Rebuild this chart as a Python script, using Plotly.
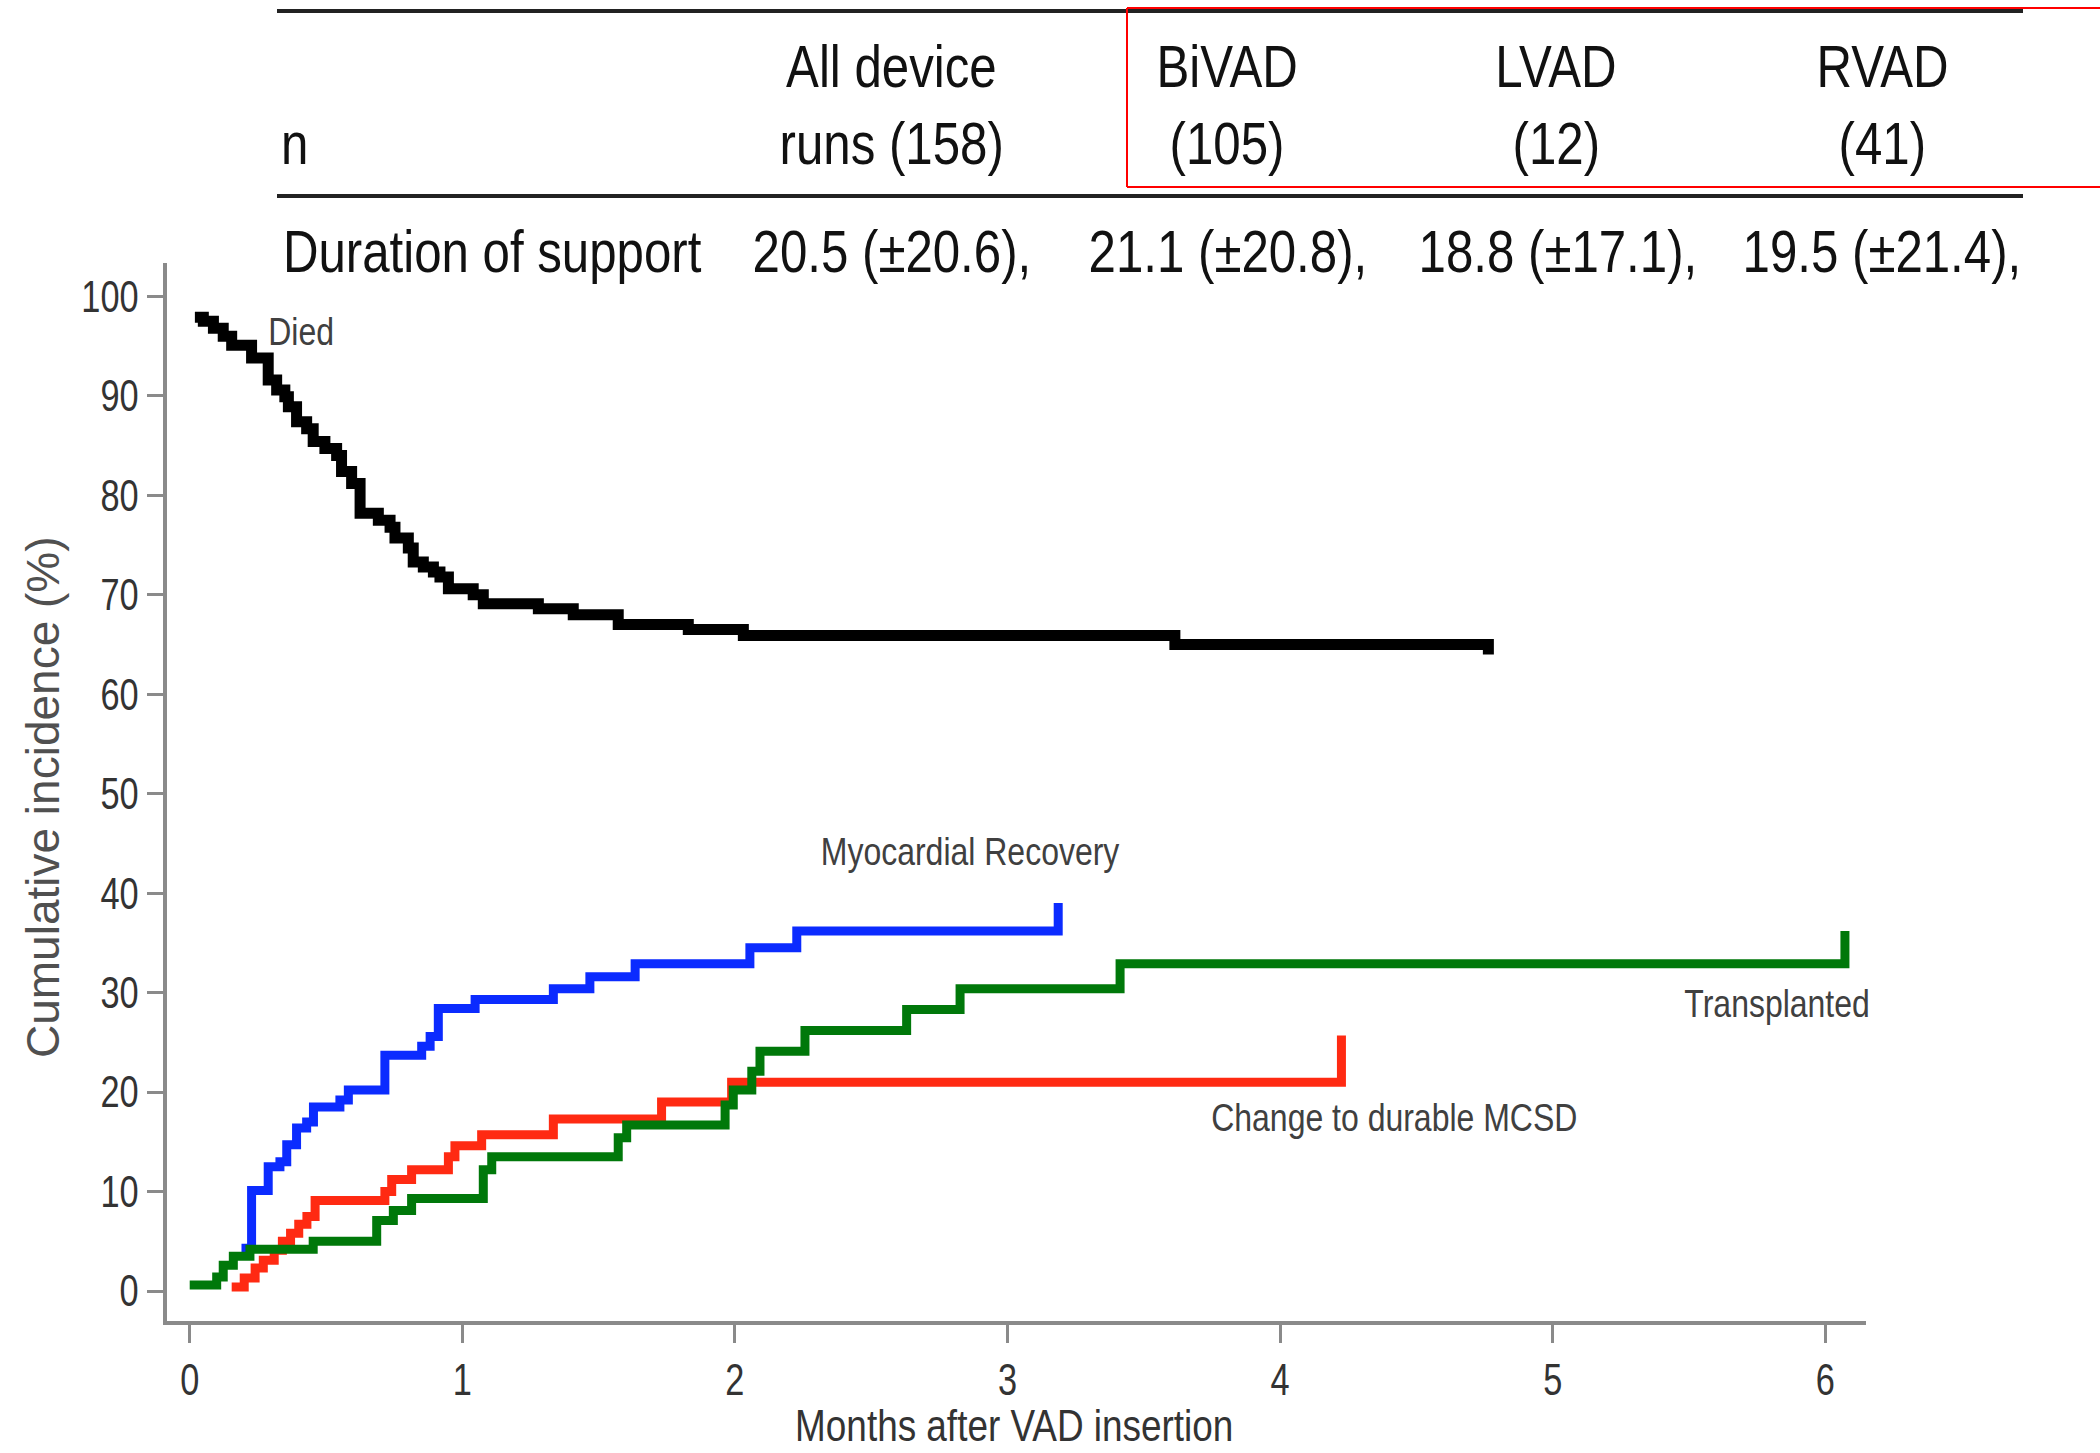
import plotly.graph_objects as go

# ---------------- data ----------------
group_names = ["All device", "BiVAD", "LVAD", "RVAD"]
group_n = [158, 105, 12, 41]
dur_mean = [20.5, 21.1, 18.8, 19.5]
dur_sd = [20.6, 20.8, 17.1, 21.4]

x_ticks = [0, 1, 2, 3, 4, 5, 6]
y_ticks = [0, 10, 20, 30, 40, 50, 60, 70, 80, 90, 100]

died_x = [0.019, 0.050, 0.087, 0.123, 0.154, 0.227, 0.288, 0.319, 0.349, 0.362,
          0.392, 0.429, 0.453, 0.496, 0.539, 0.557, 0.594, 0.625, 0.692, 0.735,
          0.753, 0.802, 0.820, 0.857, 0.894, 0.918, 0.949, 1.040, 1.077, 1.279,
          1.407, 1.572, 1.829, 2.031, 3.614, 4.764]
died_y = [97.9, 97.5, 96.8, 96.0, 95.1, 93.8, 91.6, 90.6, 89.9, 88.9,
          87.4, 86.7, 85.4, 84.7, 84.0, 82.4, 81.2, 78.2, 77.5, 76.8,
          75.7, 74.7, 73.3, 72.8, 72.3, 71.8, 70.6, 70.0, 69.1, 68.6,
          68.0, 67.0, 66.5, 65.9, 65.0, 64.0]

recov_x = [0.190, 0.227, 0.288, 0.331, 0.356, 0.392, 0.429, 0.454, 0.551, 0.582,
           0.716, 0.851, 0.882, 0.912, 1.047, 1.334, 1.468, 1.634, 2.055, 2.227, 3.186]
recov_y = [4.3, 10.1, 12.5, 13.0, 14.7, 16.4, 17.0, 18.5, 19.2, 20.2,
           23.7, 24.6, 25.6, 28.4, 29.3, 30.4, 31.6, 32.9, 34.5, 36.2, 39.0]

mcsd_x = [0.154, 0.200, 0.240, 0.270, 0.310, 0.340, 0.370, 0.400, 0.430, 0.460,
          0.716, 0.741, 0.814, 0.949, 0.973, 1.071, 1.334, 1.731, 1.988, 4.225]
mcsd_y = [0.4, 1.3, 2.3, 3.1, 4.1, 5.0, 5.8, 6.7, 7.5, 9.1,
          10.0, 11.2, 12.2, 13.5, 14.6, 15.7, 17.3, 19.0, 21.0, 25.7]

tx_x = [0.000, 0.099, 0.123, 0.160, 0.221, 0.453, 0.686, 0.747, 0.814, 1.077,
        1.108, 1.572, 1.603, 1.964, 1.994, 2.062, 2.092, 2.257, 2.630, 2.826,
        3.413, 6.072]
tx_y = [0.6, 1.4, 2.6, 3.5, 4.2, 5.0, 7.1, 8.1, 9.3, 12.2,
        13.5, 15.4, 16.7, 18.7, 20.2, 22.1, 24.1, 26.2, 28.3, 30.4,
        32.9, 36.2]

# ---------------- layout helpers ----------------
W, H = 2100, 1453
FONT = "Liberation Sans, Arial, sans-serif"


def px(x):
    return x / W


def py(y):
    return 1 - y / H


fig = go.Figure()

series = [
    (recov_x, recov_y, "#0b2bff", 9),
    (mcsd_x, mcsd_y, "#ff2a12", 9),
    (tx_x, tx_y, "#00780a", 9),
    (died_x, died_y, "#000000", 11),
]
for xs, ys, col, wd in series:
    fig.add_trace(go.Scatter(x=xs, y=ys, mode="lines",
                             line=dict(shape="hv", color=col, width=wd),
                             hoverinfo="skip"))

hdr_font = dict(family=FONT, size=60, color="#111")
ann = []
# header table
ann.append(dict(x=px(294), y=py(143.5), text="n", font=hdr_font))
col_centers = [891, 1227, 1556, 1883]
for i, (name, n) in enumerate(zip(group_names, group_n)):
    row2 = f"runs ({n})" if i == 0 else f"({n})"
    ann.append(dict(x=px(col_centers[i]), y=py(66.5), text=name, font=hdr_font))
    ann.append(dict(x=px(col_centers[i]), y=py(143.5), text=row2, font=hdr_font))

ann.append(dict(x=px(492), y=py(251.5), text="Duration of support", font=hdr_font))
dur_centers = [892, 1228, 1558, 1882]
for i in range(4):
    ann.append(dict(x=px(dur_centers[i]), y=py(251.5),
                    text=f"{dur_mean[i]} (\u00b1{dur_sd[i]}),", font=hdr_font))

# curve labels
lab_font = dict(family=FONT, size=39, color="#404040")
ann.append(dict(x=px(301), y=py(331), text="Died", font=lab_font))
ann.append(dict(x=px(970), y=py(851), text="Myocardial Recovery", font=lab_font))
ann.append(dict(x=px(1777), y=py(1003.5), text="Transplanted", font=lab_font))
ann.append(dict(x=px(1394), y=py(1117), text="Change to durable MCSD", font=lab_font))

# axis titles
ann.append(dict(x=px(43), y=py(797), text="Cumulative incidence (%)", textangle=-90,
                font=dict(family=FONT, size=46, color="#505050")))
ann.append(dict(x=px(1014), y=py(1425), text="Months after VAD insertion", borderpad=0,
                font=dict(family=FONT, size=45, color="#333")))

for a in ann:
    a.update(xref="paper", yref="paper", showarrow=False, xanchor="center", yanchor="middle")

shapes = [
    dict(type="line", xref="paper", yref="paper", x0=px(277), x1=px(2023), y0=py(11), y1=py(11),
         line=dict(color="#222", width=4)),
    dict(type="line", xref="paper", yref="paper", x0=px(277), x1=px(2023), y0=py(196), y1=py(196),
         line=dict(color="#222", width=4)),
    dict(type="line", xref="paper", yref="paper", x0=px(1127), x1=px(2100), y0=py(8), y1=py(8),
         line=dict(color="#ff0000", width=2)),
    dict(type="line", xref="paper", yref="paper", x0=px(1127), x1=px(2100), y0=py(187), y1=py(187),
         line=dict(color="#ff0000", width=2)),
    dict(type="line", xref="paper", yref="paper", x0=px(1127), x1=px(1127), y0=py(8), y1=py(187),
         line=dict(color="#ff0000", width=2)),
]

x_lo = (167.4 - 189.7) / 272.6
x_hi = (1866 - 189.7) / 272.6
y_lo = (1291 - 1320.5) / 9.946
y_hi = (1291 - 263) / 9.946

tick_font = dict(family=FONT, size=44, color="#333")
fig.update_layout(
    width=W, height=H,
    margin=dict(l=0, r=0, t=0, b=0),
    paper_bgcolor="white", plot_bgcolor="white",
    showlegend=False,
    annotations=ann,
    shapes=shapes,
    xaxis=dict(domain=[px(167.4), px(1866)], range=[x_lo, x_hi], tickvals=x_ticks,
               ticks="outside", ticklen=18, tickwidth=3, tickcolor="#8a8a8a",
               showline=True, linecolor="#8a8a8a", linewidth=4, showgrid=False,
               zeroline=False, tickfont=tick_font),
    yaxis=dict(domain=[py(1320.5), py(263)], range=[y_lo, y_hi], tickvals=y_ticks,
               ticks="outside", ticklen=16, tickwidth=3, tickcolor="#8a8a8a",
               showline=True, linecolor="#8a8a8a", linewidth=4, showgrid=False,
               zeroline=False, tickfont=tick_font),
)

# Narrow (Arial-Narrow-like) rendering of texts by condensing glyphs in place
post = """
document.body.style.margin = '0';
document.body.style.overflow = 'hidden';
var gd = document.getElementById('{plot_id}');
function condense(t, f) {
  var w = t.getComputedTextLength();
  if (w > 0) {
    t.setAttribute('lengthAdjust', 'spacingAndGlyphs');
    t.setAttribute('textLength', (w * f).toFixed(2));
  }
}
gd.querySelectorAll('text.annotation-text').forEach(function (t) {
  if (t.textContent.indexOf('Cumulative') === 0) return;
  condense(t, 0.82);
});
gd.querySelectorAll('g.xtick text, g.ytick text').forEach(function (t) {
  condense(t, 0.78);
});
"""

fig.write_html("out.html", post_script=post, config={"displayModeBar": False})
